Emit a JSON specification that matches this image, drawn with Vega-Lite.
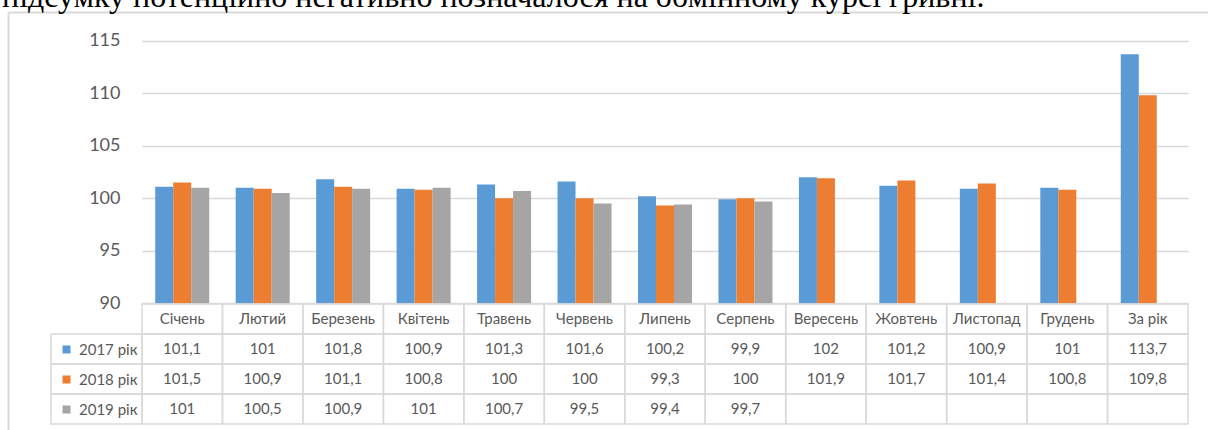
{
  "$schema": "https://vega.github.io/schema/vega-lite/v6.json",
  "width": 1200,
  "height": 418,
  "autosize": {"type": "none"},
  "padding": {"left": 8, "top": 12, "right": 0, "bottom": 0},
  "background": "white",
  "title": {
    "text": "підсумку потенційно негативно позначалося на обмінному курсі гривні.",
    "anchor": "start",
    "frame": "group",
    "font": "Liberation Serif",
    "fontSize": 32,
    "fontWeight": "normal",
    "color": "#000000",
    "baseline": "alphabetic",
    "offset": 0,
    "dx": -6,
    "dy": 27
  },
  "config": {
    "view": {"stroke": null},
    "locale": {"number": {"decimal": ",", "thousands": " ", "grouping": [3], "currency": ["", ""]}},
    "text": {"font": "Lato", "fontSize": 15, "color": "#595959"}
  },
  "data": {
    "values": [
      {"month": "Січень", "series": "2017 рік", "value": 101.1},
      {"month": "Лютий", "series": "2017 рік", "value": 101},
      {"month": "Березень", "series": "2017 рік", "value": 101.8},
      {"month": "Квітень", "series": "2017 рік", "value": 100.9},
      {"month": "Травень", "series": "2017 рік", "value": 101.3},
      {"month": "Червень", "series": "2017 рік", "value": 101.6},
      {"month": "Липень", "series": "2017 рік", "value": 100.2},
      {"month": "Серпень", "series": "2017 рік", "value": 99.9},
      {"month": "Вересень", "series": "2017 рік", "value": 102},
      {"month": "Жовтень", "series": "2017 рік", "value": 101.2},
      {"month": "Листопад", "series": "2017 рік", "value": 100.9},
      {"month": "Грудень", "series": "2017 рік", "value": 101},
      {"month": "За рік", "series": "2017 рік", "value": 113.7},
      {"month": "Січень", "series": "2018 рік", "value": 101.5},
      {"month": "Лютий", "series": "2018 рік", "value": 100.9},
      {"month": "Березень", "series": "2018 рік", "value": 101.1},
      {"month": "Квітень", "series": "2018 рік", "value": 100.8},
      {"month": "Травень", "series": "2018 рік", "value": 100},
      {"month": "Червень", "series": "2018 рік", "value": 100},
      {"month": "Липень", "series": "2018 рік", "value": 99.3},
      {"month": "Серпень", "series": "2018 рік", "value": 100},
      {"month": "Вересень", "series": "2018 рік", "value": 101.9},
      {"month": "Жовтень", "series": "2018 рік", "value": 101.7},
      {"month": "Листопад", "series": "2018 рік", "value": 101.4},
      {"month": "Грудень", "series": "2018 рік", "value": 100.8},
      {"month": "За рік", "series": "2018 рік", "value": 109.8},
      {"month": "Січень", "series": "2019 рік", "value": 101},
      {"month": "Лютий", "series": "2019 рік", "value": 100.5},
      {"month": "Березень", "series": "2019 рік", "value": 100.9},
      {"month": "Квітень", "series": "2019 рік", "value": 101},
      {"month": "Травень", "series": "2019 рік", "value": 100.7},
      {"month": "Червень", "series": "2019 рік", "value": 99.5},
      {"month": "Липень", "series": "2019 рік", "value": 99.4},
      {"month": "Серпень", "series": "2019 рік", "value": 99.7},
      {"month": "Вересень", "series": "2019 рік", "value": null},
      {"month": "Жовтень", "series": "2019 рік", "value": null},
      {"month": "Листопад", "series": "2019 рік", "value": null},
      {"month": "Грудень", "series": "2019 рік", "value": null},
      {"month": "За рік", "series": "2019 рік", "value": null}
    ]
  },
  "layer": [
    {
      "transform": [{"filter": "datum.value != null"}],
      "mark": {"type": "bar"},
      "encoding": {
        "x": {
          "field": "month", "type": "nominal", "sort": null,
          "scale": {"type": "band", "domain": ["Січень", "Лютий", "Березень", "Квітень", "Травень", "Червень", "Липень", "Серпень", "Вересень", "Жовтень", "Листопад", "Грудень", "За рік"], "paddingInner": 0, "paddingOuter": 0.957, "align": 0.8701},
          "axis": {"orient": "top", "title": null, "labels": false, "ticks": false, "grid": false, "domainColor": "#d9d9d9", "domainWidth": 2}
        },
        "xOffset": {
          "field": "series", "type": "nominal",
          "scale": {"domain": ["2017 рік", "2018 рік", "2019 рік"], "paddingInner": 0, "paddingOuter": 0.735}
        },
        "y": {
          "field": "value", "type": "quantitative",
          "scale": {"domain": [77.94, 117.73], "zero": false, "nice": false},
          "axis": {
            "title": null, "values": [90, 95, 100, 105, 110, 115],
            "ticks": false, "tickSize": 0, "labelPadding": -112,
            "labelFont": "Lato", "labelFontSize": 18, "labelColor": "#595959",
            "domainColor": "#d9d9d9", "domainWidth": 2,
            "grid": true, "gridColor": "#d9d9d9", "gridWidth": 1.5,
            "gridDash": [1046, 1000], "gridDashOffset": 1912
          }
        },
        "y2": {"datum": 90},
        "color": {
          "field": "series", "type": "nominal",
          "scale": {"domain": ["2017 рік", "2018 рік", "2019 рік"], "range": ["#5b9bd5", "#ed7d31", "#a5a5a5"]},
          "legend": {
            "orient": "none", "legendX": 51, "legendY": 330, "direction": "vertical", "title": null,
            "symbolType": "square", "symbolSize": 64, "symbolStrokeWidth": 0,
            "labelFont": "Lato", "labelFontSize": 15, "labelColor": "#595959", "labelOffset": 5,
            "rowPadding": 14, "padding": 0
          }
        }
      }
    },
    {
      "mark": {"type": "rect", "fill": "transparent", "stroke": "#d9d9d9", "strokeWidth": 1.5},
      "encoding": {
        "x": {
          "field": "month", "type": "nominal", "sort": null,
          "scale": {"type": "band", "domain": ["Січень", "Лютий", "Березень", "Квітень", "Травень", "Червень", "Липень", "Серпень", "Вересень", "Жовтень", "Листопад", "Грудень", "За рік"], "paddingInner": 0, "paddingOuter": 0.957, "align": 0.8701},
          "axis": null
        },
        "y": {
          "field": "series", "type": "nominal", "sort": null,
          "scale": {"type": "band", "domain": ["_1", "_2", "_3", "_4", "_5", "_6", "_7", "_8", "_9", " ", "2017 рік", "2018 рік", "2019 рік"], "paddingInner": 0, "paddingOuter": 0.4667, "align": 0.7857},
          "axis": null
        }
      }
    },
    {
      "transform": [{"filter": "datum.series == '2017 рік'"}],
      "mark": {"type": "rect", "fill": "transparent", "stroke": "#d9d9d9", "strokeWidth": 1.5},
      "encoding": {
        "x": {
          "field": "month", "type": "nominal", "sort": null,
          "scale": {"type": "band", "domain": ["Січень", "Лютий", "Березень", "Квітень", "Травень", "Червень", "Липень", "Серпень", "Вересень", "Жовтень", "Листопад", "Грудень", "За рік"], "paddingInner": 0, "paddingOuter": 0.957, "align": 0.8701},
          "axis": null
        },
        "y": {
          "datum": " ", "type": "nominal",
          "scale": {"type": "band", "domain": ["_1", "_2", "_3", "_4", "_5", "_6", "_7", "_8", "_9", " ", "2017 рік", "2018 рік", "2019 рік"], "paddingInner": 0, "paddingOuter": 0.4667, "align": 0.7857},
          "axis": null
        }
      }
    },
    {
      "transform": [{"filter": "datum.series == '2017 рік'"}],
      "mark": {"type": "text", "baseline": "middle", "align": "center"},
      "encoding": {
        "x": {
          "field": "month", "type": "nominal", "sort": null,
          "scale": {"type": "band", "domain": ["Січень", "Лютий", "Березень", "Квітень", "Травень", "Червень", "Липень", "Серпень", "Вересень", "Жовтень", "Листопад", "Грудень", "За рік"], "paddingInner": 0, "paddingOuter": 0.957, "align": 0.8701},
          "axis": null
        },
        "y": {
          "datum": " ", "type": "nominal",
          "scale": {"type": "band", "domain": ["_1", "_2", "_3", "_4", "_5", "_6", "_7", "_8", "_9", " ", "2017 рік", "2018 рік", "2019 рік"], "paddingInner": 0, "paddingOuter": 0.4667, "align": 0.7857},
          "axis": null
        },
        "text": {"field": "month", "type": "nominal"}
      }
    },
    {
      "transform": [{"filter": "datum.value != null"}],
      "mark": {"type": "text", "baseline": "middle", "align": "center"},
      "encoding": {
        "x": {
          "field": "month", "type": "nominal", "sort": null,
          "scale": {"type": "band", "domain": ["Січень", "Лютий", "Березень", "Квітень", "Травень", "Червень", "Липень", "Серпень", "Вересень", "Жовтень", "Листопад", "Грудень", "За рік"], "paddingInner": 0, "paddingOuter": 0.957, "align": 0.8701},
          "axis": null
        },
        "y": {
          "field": "series", "type": "nominal", "sort": null,
          "scale": {"type": "band", "domain": ["_1", "_2", "_3", "_4", "_5", "_6", "_7", "_8", "_9", " ", "2017 рік", "2018 рік", "2019 рік"], "paddingInner": 0, "paddingOuter": 0.4667, "align": 0.7857},
          "axis": null
        },
        "text": {"field": "value", "type": "quantitative", "format": ".4~g"}
      }
    },
    {
      "transform": [{"filter": "datum.month == 'Січень'"}],
      "mark": {"type": "rect", "fill": "transparent", "stroke": "#d9d9d9", "strokeWidth": 1.5},
      "encoding": {
        "x": {
          "datum": "label", "type": "nominal",
          "scale": {"type": "band", "domain": ["label", "_1", "_2", "_3", "_4", "_5", "_6", "_7", "_8", "_9", "_10", "_11"], "paddingInner": 0, "paddingOuter": 0.5934, "align": 0.3981},
          "axis": null
        },
        "y": {
          "field": "series", "type": "nominal", "sort": null,
          "scale": {"type": "band", "domain": ["_1", "_2", "_3", "_4", "_5", "_6", "_7", "_8", "_9", " ", "2017 рік", "2018 рік", "2019 рік"], "paddingInner": 0, "paddingOuter": 0.4667, "align": 0.7857},
          "axis": null
        }
      }
    }
  ],
  "resolve": {"scale": {"x": "independent", "y": "independent"}}
}
